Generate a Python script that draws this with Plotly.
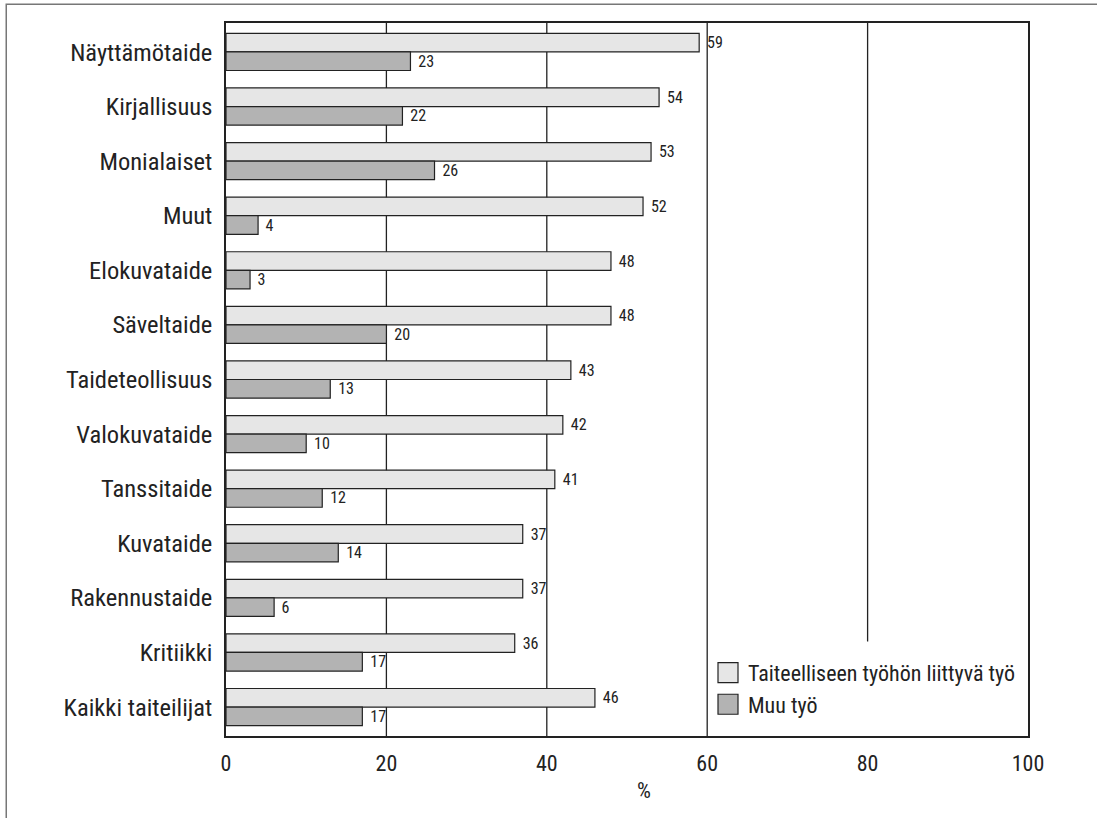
import plotly.graph_objects as go

categories = ["Näyttämötaide", "Kirjallisuus", "Monialaiset", "Muut", "Elokuvataide",
              "Säveltaide", "Taideteollisuus", "Valokuvataide", "Tanssitaide",
              "Kuvataide", "Rakennustaide", "Kritiikki", "Kaikki taiteilijat"]
art_related = [59, 54, 53, 52, 48, 48, 43, 42, 41, 37, 37, 36, 46]
other_work = [23, 22, 26, 4, 3, 20, 13, 10, 12, 14, 6, 17, 17]
series_names = ["Taiteelliseen työhön liittyvä työ", "Muu työ"]
x_ticks = [0, 20, 40, 60, 80, 100]
grid_full = [20, 40, 60]
grid_partial = [80]

FONT = "Roboto, Liberation Sans, sans-serif"
INK = "#222222"

fig = go.Figure()
for i, (name, vals, col) in enumerate([(series_names[0], art_related, "#e6e6e6"),
                                       (series_names[1], other_work, "#b3b3b3")]):
    fig.add_trace(go.Bar(
        y=categories, x=vals, orientation="h", name=name, legendgroup=f"g{i}",
        marker=dict(color=col, line=dict(color=INK, width=1.2)),
        texttemplate="\u00a0%{x}", textposition="outside",
        textfont=dict(size=16, color=INK, family=FONT),
        constraintext="none", cliponaxis=False,
    ))

shapes = []
for g in grid_full:
    shapes.append(dict(type="line", xref="x", yref="paper", x0=g, x1=g, y0=0, y1=1,
                       line=dict(color=INK, width=1.3), layer="below"))
for g in grid_partial:
    shapes.append(dict(type="line", xref="x", yref="paper", x0=g, x1=g, y0=0.1326, y1=1,
                       line=dict(color=INK, width=1.3), layer="below"))
# outer frame
shapes.append(dict(type="rect", xref="paper", yref="paper", x0=-0.274, x1=1.3, y0=-0.3, y1=1.0262,
                   line=dict(color="#777777", width=1.5), fillcolor="rgba(0,0,0,0)"))

fig.update_layout(
    width=1097, height=818,
    margin=dict(l=226, r=69, t=23, b=82),
    paper_bgcolor="white", plot_bgcolor="white",
    barmode="group", bargap=0.32, bargroupgap=0,
    font=dict(family=FONT, color=INK),
    shapes=shapes,
    showlegend=True,
    legend=dict(x=0.601, xanchor="left", y=0.118, yanchor="top",
                font=dict(size=22, family=FONT, color=INK),
                bgcolor="rgba(0,0,0,0)", tracegroupgap=0, traceorder="grouped"),
    annotations=[dict(text="%", xref="paper", yref="paper", x=0.5216, y=-0.0767,
                      xanchor="center", yanchor="middle", showarrow=False,
                      font=dict(size=22, family=FONT, color=INK))],
)
fig.update_xaxes(range=[0, 100], tickvals=x_ticks, showgrid=False, zeroline=False,
                 showline=True, mirror=True, linecolor=INK, linewidth=1.5,
                 ticks="", tickfont=dict(size=22, family=FONT, color=INK),
                 ticklabelstandoff=7)
fig.update_yaxes(range=[12.53, -0.53], showgrid=False, zeroline=False,
                 showline=True, mirror=True, linecolor=INK, linewidth=1.5,
                 ticks="", tickfont=dict(size=24.5, family=FONT, color=INK),
                 ticklabelstandoff=7)

css = ("text{font-stretch:condensed !important;}"
       ".legend .legendpoints path{d:path('M10,10H-10V-10H10Z');}")
post = (
    "var s=document.createElement('style');"
    "s.textContent=\"" + css + "\";"
    "document.head.appendChild(s);"
    "document.body.style.margin='0';"
    "var gd=document.getElementById('{plot_id}');"
    "Plotly.newPlot(gd, gd.data, gd.layout, {displayModeBar:false});"
)
fig.write_html("out.html", post_script=post, config={"displayModeBar": False})
